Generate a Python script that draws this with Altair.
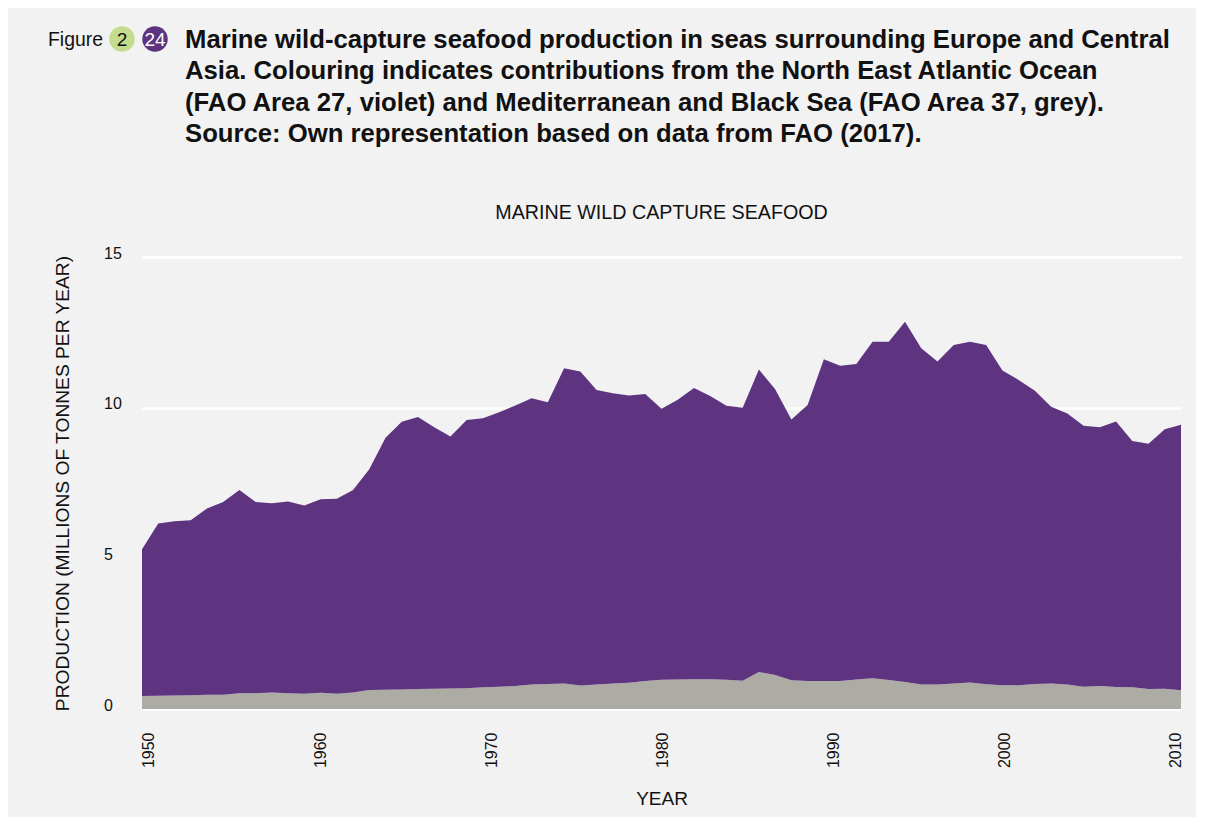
import altair as alt
import pandas as pd

# ---------------- data ----------------
years = list(range(1950, 2015))

# top of the stack: total production (Area 27 + Area 37), million tonnes
total = [5.30, 6.16, 6.23, 6.26, 6.65, 6.87, 7.27, 6.87, 6.83, 6.89,
         6.75, 6.96, 6.98, 7.27, 7.96, 9.00, 9.53, 9.69, 9.35, 9.04,
         9.59, 9.65, 9.85, 10.07, 10.31, 10.18, 11.31, 11.20, 10.59, 10.48,
         10.40, 10.45, 9.96, 10.26, 10.65, 10.39, 10.06, 10.00, 11.27, 10.61,
         9.61, 10.09, 11.61, 11.39, 11.45, 12.19, 12.19, 12.85, 11.97, 11.53,
         12.08, 12.19, 12.08, 11.23, 10.92, 10.56, 10.03, 9.81, 9.40, 9.35,
         9.54, 8.89, 8.80, 9.28, 9.43]

# Mediterranean and Black Sea (FAO Area 37), million tonnes
area37 = [0.43, 0.44, 0.45, 0.46, 0.47, 0.47, 0.52, 0.52, 0.55, 0.52,
          0.51, 0.54, 0.51, 0.55, 0.63, 0.64, 0.65, 0.66, 0.67, 0.68,
          0.69, 0.72, 0.74, 0.76, 0.81, 0.83, 0.85, 0.78, 0.81, 0.85,
          0.87, 0.93, 0.97, 0.98, 0.99, 0.99, 0.97, 0.94, 1.23, 1.13,
          0.95, 0.93, 0.93, 0.93, 0.98, 1.02, 0.96, 0.90, 0.81, 0.81,
          0.85, 0.88, 0.82, 0.79, 0.79, 0.83, 0.85, 0.81, 0.74, 0.76,
          0.73, 0.72, 0.66, 0.67, 0.62]

axis_years = [1950, 1960, 1970, 1980, 1990, 2000, 2010]
y_ticks = [0, 5, 10, 15]

header_lines = [
    "Marine wild-capture seafood production in seas surrounding Europe and Central",
    "Asia. Colouring indicates contributions from the North East Atlantic Ocean",
    "(FAO Area 27, violet) and Mediterranean and Black Sea (FAO Area 37, grey).",
    "Source: Own representation based on data from FAO (2017).",
]
fig_label = "Figure"
badge_a = "2"
badge_b = "24"
chart_title = "MARINE WILD CAPTURE SEAFOOD"
y_title = "PRODUCTION (MILLIONS OF TONNES PER YEAR)"
x_title = "YEAR"

# ---------------- styling ----------------
VIOLET = "#5e3480"
GREY = "#adaca4"
GREEN = "#c4dc8e"
BG = "#f2f2f2"
INK = "#111111"
FONT = "Liberation Sans"

W, H = 1039, 452

df = pd.DataFrame({"year": years, "total": total, "area37": area37})

x_enc = alt.X("year:Q", scale=alt.Scale(domain=[1950, 2014], nice=False, zero=False), axis=None)
y_scale = alt.Scale(domain=[0, 15], nice=False, zero=True)
y_axis = alt.Axis(
    values=y_ticks, grid=True, gridColor="white", gridWidth=2.5,
    ticks=False, tickSize=0, domain=False,
    labelAlign="left", labelBaseline="middle", labelPadding=38.5, labelOffset=-4,
    labelFontSize=16, labelFont=FONT, labelColor=INK, labelFlush=False,
    title=y_title, titleFont=FONT, titleFontSize=19.2, titleFontWeight="normal",
    titleColor=INK, titleAngle=270, titleX=-80, titleY=H / 2,
    titleAlign="center", titleBaseline="middle",
)

grey_area = alt.Chart(df).mark_area(color=GREY, opacity=1).encode(
    x=x_enc,
    y=alt.Y("area37:Q", scale=y_scale, axis=y_axis),
)
violet_area = alt.Chart(df).mark_area(color=VIOLET, opacity=1).encode(
    x=x_enc,
    y=alt.Y("total:Q", scale=y_scale, axis=y_axis),
    y2="area37:Q",
)

axis_df = pd.DataFrame({"axis_year": axis_years})
axis_layer = alt.Chart(axis_df).mark_point(opacity=0).encode(
    x=alt.X(
        "axis_year:Q",
        scale=alt.Scale(domain=[1949.6, 2010.3], nice=False, zero=False),
        axis=alt.Axis(
            values=axis_years, format="d", orient="bottom", grid=False,
            ticks=False, tickSize=0, domain=False,
            labelAngle=270, labelAlign="right", labelBaseline="middle",
            labelPadding=23, labelFontSize=16, labelFont=FONT, labelColor=INK,
            labelFlush=False, labelOverlap=False,
            title=x_title, titleFont=FONT, titleFontSize=19, titleFontWeight="normal",
            titleColor=INK, titleX=W / 2, titleY=89, titleAlign="center",
            titleBaseline="middle",
        ),
    )
)

def one(text):
    return pd.DataFrame({"t": [text]})

fig_text = alt.Chart(one(fig_label)).mark_text(
    align="left", baseline="alphabetic", font=FONT, fontSize=19.4, color=INK
).encode(text="t:N", x=alt.value(-94), y=alt.value(-211))

badge_a_circle = alt.Chart(one(badge_a)).mark_circle(
    size=650, color=GREEN, opacity=1
).encode(x=alt.value(-20), y=alt.value(-218))
badge_a_text = alt.Chart(one(badge_a)).mark_text(
    align="center", baseline="middle", font=FONT, fontSize=19, color=INK, dy=1
).encode(text="t:N", x=alt.value(-20), y=alt.value(-218))

badge_b_circle = alt.Chart(one(badge_b)).mark_circle(
    size=650, color=VIOLET, opacity=1
).encode(x=alt.value(13), y=alt.value(-218))
badge_b_text = alt.Chart(one(badge_b)).mark_text(
    align="center", baseline="middle", font=FONT, fontSize=19, color="white", dy=1
).encode(text="t:N", x=alt.value(13), y=alt.value(-218))

header = alt.Chart(one("\n".join(header_lines))).mark_text(
    align="left", baseline="alphabetic", font=FONT, fontSize=25.7, fontWeight="bold",
    color=INK, lineBreak="\n", lineHeight=31.3
).encode(text="t:N", x=alt.value(43), y=alt.value(-209))

title_text = alt.Chart(one(chart_title)).mark_text(
    align="center", baseline="middle", font=FONT, fontSize=19.7, color=INK
).encode(text="t:N", x=alt.value(W / 2), y=alt.value(-44))

chart = alt.layer(
    grey_area, violet_area, axis_layer,
    fig_text, badge_a_circle, badge_a_text, badge_b_circle, badge_b_text,
    header, title_text,
).resolve_scale(x="independent").properties(
    width=W, height=H,
    padding={"left": 134, "top": 249, "right": 15, "bottom": 108},
    autosize=alt.AutoSizeParams(type="none"),
    background=BG,
).configure_view(stroke=None)

chart.save("out.html", embed_options={"renderer": "svg", "actions": False})
